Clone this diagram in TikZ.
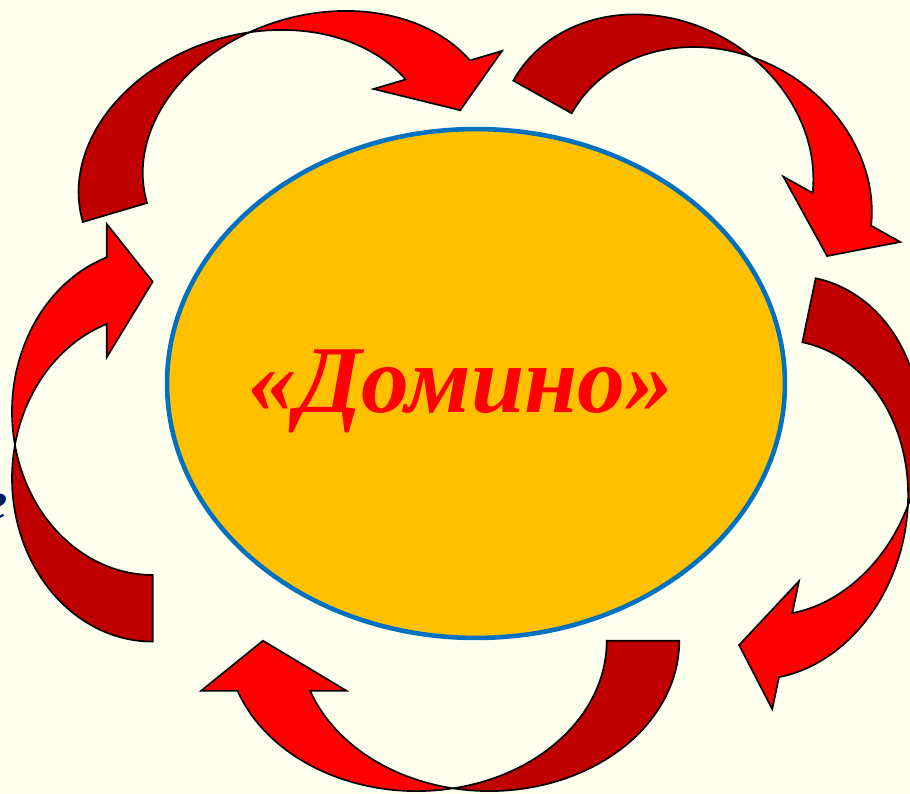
\documentclass[tikz,border=0pt]{standalone}
\usepackage{fontspec}
\setmainfont{Liberation Serif}
\usetikzlibrary{shapes.geometric}
\definecolor{cBG}{HTML}{FFFFEE}
\definecolor{cDRK}{HTML}{C00000}
\definecolor{cRED}{HTML}{FF0000}
\definecolor{cORB}{HTML}{FFC000}
\definecolor{cBLU}{HTML}{0070C0}
\definecolor{cNAV}{HTML}{002060}

\begin{document}
\begin{tikzpicture}[x=0.02cm, y=0.02cm, ribbon/.style={draw=black, line width=0.95pt, line join=miter}]
\fill[cBG] (0,0) rectangle (910,794);
\useasboundingbox (0,0) rectangle (910,794);
\node[ellipse, draw=cBLU, line width=2.6pt, fill=cORB, minimum width=12.36cm, minimum height=10.18cm, inner sep=0pt] (dom) at (476,410.5) {};
\node[anchor=base, text=cRED, font=\fontsize{54.5}{60}\selectfont\bfseries\itshape, inner sep=0pt] (title) at (461,381) {«Домино»};
\node[anchor=base east, text=cNAV, font=\fontsize{31}{36}\selectfont\bfseries\itshape, inner sep=0pt] (cut) at (8,274) {e};
% five ribbon arrows round the ellipse, clockwise
\foreach \x/\y/\a/\R/\H/\w/\h in {115/581.5/16.5/180/137/67/45, 542.5/697/-29.2/163/140/67/48, 809/483.7/258.2/171/139.3/65.4/45.6, 643/153.3/180/190/150.4/72.6/50, 152.7/185.7/90/163.3/140.7/66.7/46} {
  \pgfmathsetmacro{\pA}{acos(\w/(2*\R))}
  \pgfmathsetmacro{\pB}{180-\pA}
  \pgfmathsetmacro{\tn}{asin(\h/\H)}
  \pgfmathsetmacro{\nin}{\R-\w/2+\R*cos(\tn)}
  \pgfmathsetmacro{\nout}{\R+\w/2+\R*cos(\tn)}
  \begin{scope}[shift={(\x,\y)}, rotate=\a]
    \draw[ribbon, fill=cDRK] (-\w/2,0) arc[start angle=180, end angle=\pA, x radius=\R, y radius=\H]
      arc[start angle=\pB, end angle=180, x radius=\R, y radius=\H] -- cycle;
    \draw[ribbon, fill=cRED] (\nin,\h) arc[start angle=\tn, end angle=\pA, x radius=\R, y radius=\H]
      arc[start angle=\pB, end angle=\tn, x radius=\R, y radius=\H]
      -- (\nout+\w/2,\h) -- (2*\R,0) -- (\nin-\w/2,\h) -- cycle;
  \end{scope}
}
\end{tikzpicture}
\end{document}
